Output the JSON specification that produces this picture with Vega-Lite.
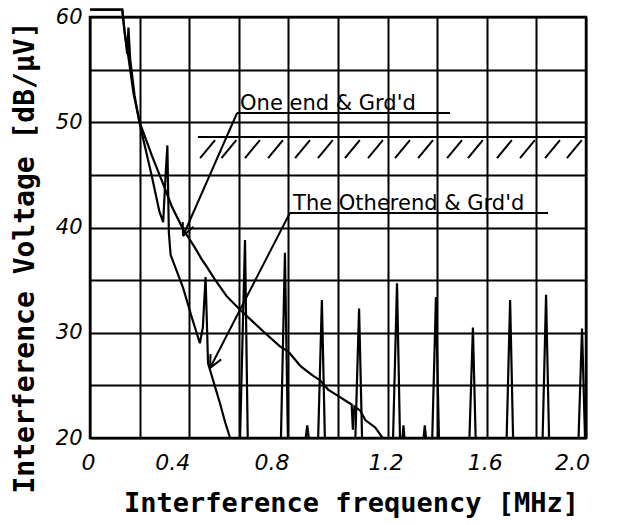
{
  "$schema": "https://vega.github.io/schema/vega-lite/v6.json",
  "width": 496,
  "height": 421,
  "autosize": "none",
  "padding": {"left": 90, "top": 17, "right": 31, "bottom": 87},
  "background": "white",
  "config": {"view": {"stroke": "black", "strokeWidth": 2.5}},
  "datasets": {
    "curves": [
      {"series": "One end", "f": 0, "v": 60.7},
      {"series": "One end", "f": 0.13, "v": 60.7},
      {"series": "One end", "f": 0.14, "v": 58.5},
      {"series": "One end", "f": 0.15, "v": 57},
      {"series": "One end", "f": 0.165, "v": 54.5},
      {"series": "One end", "f": 0.175, "v": 52.8},
      {"series": "One end", "f": 0.2, "v": 50},
      {"series": "One end", "f": 0.25, "v": 46.8},
      {"series": "One end", "f": 0.294, "v": 44.2},
      {"series": "One end", "f": 0.33, "v": 42},
      {"series": "One end", "f": 0.376, "v": 39.8},
      {"series": "One end", "f": 0.42, "v": 38.2},
      {"series": "One end", "f": 0.45, "v": 37},
      {"series": "One end", "f": 0.47, "v": 36.3},
      {"series": "One end", "f": 0.5, "v": 35.2},
      {"series": "One end", "f": 0.55, "v": 33.5},
      {"series": "One end", "f": 0.6, "v": 32.3},
      {"series": "One end", "f": 0.65, "v": 31.2},
      {"series": "One end", "f": 0.7, "v": 30.1},
      {"series": "One end", "f": 0.766, "v": 28.7},
      {"series": "One end", "f": 0.8, "v": 28.2},
      {"series": "One end", "f": 0.85, "v": 26.8},
      {"series": "One end", "f": 0.9, "v": 25.9},
      {"series": "One end", "f": 0.927, "v": 25.5},
      {"series": "One end", "f": 0.96, "v": 24.6},
      {"series": "One end", "f": 1.0, "v": 24},
      {"series": "One end", "f": 1.04, "v": 23.4},
      {"series": "One end", "f": 1.055, "v": 23.2},
      {"series": "One end", "f": 1.06, "v": 20.8},
      {"series": "One end", "f": 1.066, "v": 23},
      {"series": "One end", "f": 1.09, "v": 22.6},
      {"series": "One end", "f": 1.11, "v": 21.7},
      {"series": "One end", "f": 1.15, "v": 21},
      {"series": "One end", "f": 1.18, "v": 20},
      {"series": "Other end", "f": 0, "v": 60.7},
      {"series": "Other end", "f": 0.13, "v": 60.7},
      {"series": "Other end", "f": 0.14, "v": 58.5},
      {"series": "Other end", "f": 0.15, "v": 56.5},
      {"series": "Other end", "f": 0.155, "v": 59},
      {"series": "Other end", "f": 0.162, "v": 56},
      {"series": "Other end", "f": 0.18, "v": 52.5},
      {"series": "Other end", "f": 0.2, "v": 49.9},
      {"series": "Other end", "f": 0.25, "v": 44.8},
      {"series": "Other end", "f": 0.28, "v": 41.5},
      {"series": "Other end", "f": 0.295, "v": 40.5},
      {"series": "Other end", "f": 0.305, "v": 45},
      {"series": "Other end", "f": 0.312, "v": 47.8},
      {"series": "Other end", "f": 0.318, "v": 39.5},
      {"series": "Other end", "f": 0.325, "v": 37.4},
      {"series": "Other end", "f": 0.375, "v": 34.3},
      {"series": "Other end", "f": 0.41, "v": 31.5},
      {"series": "Other end", "f": 0.443, "v": 29},
      {"series": "Other end", "f": 0.455, "v": 30.5},
      {"series": "Other end", "f": 0.466, "v": 35.3},
      {"series": "Other end", "f": 0.476, "v": 27.1},
      {"series": "Other end", "f": 0.5, "v": 25.2},
      {"series": "Other end", "f": 0.524, "v": 23.3},
      {"series": "Other end", "f": 0.545, "v": 21.5},
      {"series": "Other end", "f": 0.565, "v": 20},
      {"series": "Other end", "f": 0.605, "v": 20},
      {"series": "Other end", "f": 0.625, "v": 38.8},
      {"series": "Other end", "f": 0.636, "v": 20},
      {"series": "Other end", "f": 0.77, "v": 20},
      {"series": "Other end", "f": 0.786, "v": 37.6},
      {"series": "Other end", "f": 0.798, "v": 20},
      {"series": "Other end", "f": 0.87, "v": 20},
      {"series": "Other end", "f": 0.876, "v": 21.2},
      {"series": "Other end", "f": 0.882, "v": 20},
      {"series": "Other end", "f": 0.92, "v": 20},
      {"series": "Other end", "f": 0.935, "v": 33.1},
      {"series": "Other end", "f": 0.947, "v": 20},
      {"series": "Other end", "f": 1.07, "v": 20},
      {"series": "Other end", "f": 1.085, "v": 32.3},
      {"series": "Other end", "f": 1.097, "v": 20},
      {"series": "Other end", "f": 1.222, "v": 20},
      {"series": "Other end", "f": 1.238, "v": 34.7},
      {"series": "Other end", "f": 1.25, "v": 20},
      {"series": "Other end", "f": 1.26, "v": 20},
      {"series": "Other end", "f": 1.264, "v": 21.2},
      {"series": "Other end", "f": 1.268, "v": 20},
      {"series": "Other end", "f": 1.345, "v": 20},
      {"series": "Other end", "f": 1.35, "v": 21.2},
      {"series": "Other end", "f": 1.355, "v": 20},
      {"series": "Other end", "f": 1.38, "v": 20},
      {"series": "Other end", "f": 1.395, "v": 33.4},
      {"series": "Other end", "f": 1.407, "v": 20},
      {"series": "Other end", "f": 1.53, "v": 20},
      {"series": "Other end", "f": 1.544, "v": 30.5},
      {"series": "Other end", "f": 1.555, "v": 20},
      {"series": "Other end", "f": 1.68, "v": 20},
      {"series": "Other end", "f": 1.694, "v": 33.1},
      {"series": "Other end", "f": 1.706, "v": 20},
      {"series": "Other end", "f": 1.825, "v": 20},
      {"series": "Other end", "f": 1.839, "v": 33.6},
      {"series": "Other end", "f": 1.851, "v": 20},
      {"series": "Other end", "f": 1.97, "v": 20},
      {"series": "Other end", "f": 1.984, "v": 30.4},
      {"series": "Other end", "f": 1.996, "v": 20},
      {"series": "Other end", "f": 2.0, "v": 20}
    ],
    "segments": [
      {"f": 0.593, "v": 50.88, "f2": 0.375, "v2": 39.19},
      {"f": 0.375, "v": 39.19, "f2": 0.417, "v2": 40.07},
      {"f": 0.375, "v": 39.19, "f2": 0.374, "v2": 40.52},
      {"f": 0.593, "v": 50.88, "f2": 1.452, "v2": 50.88},
      {"f": 0.806, "v": 41.38, "f2": 0.484, "v2": 26.65},
      {"f": 0.484, "v": 26.65, "f2": 0.529, "v2": 27.47},
      {"f": 0.484, "v": 26.65, "f2": 0.486, "v2": 27.98},
      {"f": 0.806, "v": 41.38, "f2": 1.847, "v2": 41.38},
      {"f": 0.435, "v": 48.6, "f2": 2.0, "v2": 48.6},
      {"f": 0.444, "v": 46.6, "f2": 0.504, "v2": 48.3},
      {"f": 0.53, "v": 46.6, "f2": 0.59, "v2": 48.3},
      {"f": 0.625, "v": 46.6, "f2": 0.685, "v2": 48.3},
      {"f": 0.718, "v": 46.6, "f2": 0.778, "v2": 48.3},
      {"f": 0.827, "v": 46.6, "f2": 0.887, "v2": 48.3},
      {"f": 0.919, "v": 46.6, "f2": 0.979, "v2": 48.3},
      {"f": 1.028, "v": 46.6, "f2": 1.088, "v2": 48.3},
      {"f": 1.121, "v": 46.6, "f2": 1.181, "v2": 48.3},
      {"f": 1.23, "v": 46.6, "f2": 1.29, "v2": 48.3},
      {"f": 1.323, "v": 46.6, "f2": 1.383, "v2": 48.3},
      {"f": 1.44, "v": 46.6, "f2": 1.5, "v2": 48.3},
      {"f": 1.524, "v": 46.6, "f2": 1.584, "v2": 48.3},
      {"f": 1.641, "v": 46.6, "f2": 1.701, "v2": 48.3},
      {"f": 1.734, "v": 46.6, "f2": 1.794, "v2": 48.3},
      {"f": 1.835, "v": 46.6, "f2": 1.895, "v2": 48.3},
      {"f": 1.923, "v": 46.6, "f2": 1.983, "v2": 48.3}
    ],
    "labels": [
      {"text": "One end & Grd'd", "f": 0.605, "v": 51.2},
      {"text": "The Otherend & Grd'd", "f": 0.819, "v": 41.7}
    ]
  },
  "layer": [
    {
      "data": {"name": "curves"},
      "mark": {"type": "line", "color": "black", "strokeWidth": 2.2, "clip": false},
      "encoding": {
        "x": {
          "field": "f", "type": "quantitative",
          "scale": {"domain": [0, 2]},
          "axis": {
            "values": [0, 0.2, 0.4, 0.6, 0.8, 1.0, 1.2, 1.4, 1.6, 1.8, 2.0],
            "grid": true, "gridColor": "black", "gridWidth": 2, "gridOpacity": 1,
            "ticks": false, "domain": false, "labelFlush": false,
            "labelExpr": "datum.value == 0 ? '0' : (round(datum.value * 10) % 4 == 0 ? format(datum.value, '.1f') : '')",
            "labelFont": "DejaVu Sans", "labelFontSize": 22, "labelFontStyle": "italic",
            "labelColor": "black", "labelPadding": 14,
            "labelOffset": {"condition": [{"test": "datum.value > 0.3 && datum.value < 0.9", "value": -17}, {"test": "datum.value > 1.9", "value": -14}], "value": -2},
            "title": "Interference frequency [MHz]",
            "titleFont": "DejaVu Sans Mono", "titleFontSize": 27, "titleFontWeight": "bold",
            "titleColor": "black", "titleX": 261, "titleY": 65,
            "titleAlign": "center", "titleBaseline": "middle"
          }
        },
        "y": {
          "field": "v", "type": "quantitative",
          "scale": {"domain": [20, 60]},
          "axis": {
            "values": [20, 25, 30, 35, 40, 45, 50, 55, 60],
            "grid": true, "gridColor": "black", "gridWidth": 2, "gridOpacity": 1,
            "ticks": false, "domain": false, "labelFlush": false,
            "labelExpr": "datum.value % 10 == 0 ? datum.value : ''",
            "labelFont": "DejaVu Sans", "labelFontSize": 21, "labelFontStyle": "italic",
            "labelColor": "black", "labelPadding": 8,
            "title": "Interference Voltage [dB/μV]",
            "titleFont": "DejaVu Sans Mono", "titleFontSize": 28, "titleFontWeight": "bold",
            "titleColor": "black", "titleX": -65, "titleY": 240, "titleAngle": -90,
            "titleAlign": "center", "titleBaseline": "middle"
          }
        },
        "detail": {"field": "series"}
      }
    },
    {
      "data": {"name": "segments"},
      "mark": {"type": "rule", "color": "black", "strokeWidth": 2},
      "encoding": {
        "x": {"field": "f", "type": "quantitative", "title": "Interference frequency [MHz]"},
        "y": {"field": "v", "type": "quantitative", "title": "Interference Voltage [dB/μV]"},
        "x2": {"field": "f2"},
        "y2": {"field": "v2"}
      }
    },
    {
      "data": {"name": "labels"},
      "mark": {"type": "text", "align": "left", "baseline": "alphabetic", "font": "DejaVu Sans", "fontSize": 21, "color": "black"},
      "encoding": {
        "x": {"field": "f", "type": "quantitative", "title": "Interference frequency [MHz]"},
        "y": {"field": "v", "type": "quantitative", "title": "Interference Voltage [dB/μV]"},
        "text": {"field": "text"}
      }
    }
  ]
}
